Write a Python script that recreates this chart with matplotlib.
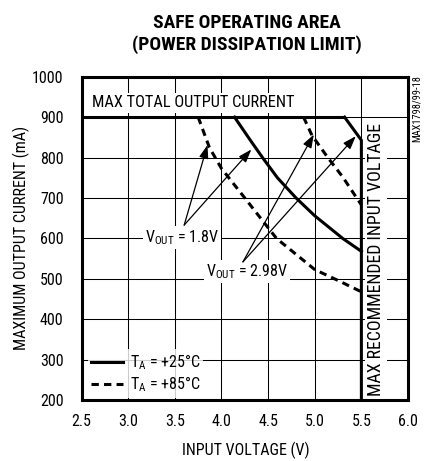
"""Safe operating area (power dissipation limit) chart."""

import matplotlib

matplotlib.use("Agg")
from matplotlib import pyplot as plt
from matplotlib.lines import Line2D

FONTS = ["Roboto Condensed", "Liberation Sans Narrow", "DejaVu Sans"]
plt.rcParams["font.family"] = FONTS
plt.rcParams["mathtext.fontset"] = "custom"
plt.rcParams["mathtext.rm"] = "Roboto Condensed"

# max total output current limit (shared flat top)
max_current_v = [2.5, 5.32]
max_current_ma = [900, 900]

# TA = +25C curves (2.98V one bends into the max input voltage line)
solid_298_v = [5.32, 5.5, 5.5]
solid_298_ma = [900, 843, 200]
solid_18_v = [4.14, 4.3, 4.44, 4.6, 4.8, 5.0, 5.3, 5.5]
solid_18_ma = [900, 846, 800, 750, 700, 656, 600, 568]

# TA = +85C curves
dashed_18_v = [3.75, 3.87, 4.0, 4.25, 4.59, 5.0, 5.25, 5.5]
dashed_18_ma = [900, 825, 773, 700, 600, 523, 496, 468]
dashed_298_v = [4.88, 4.97, 5.14, 5.3, 5.45, 5.5]
dashed_298_ma = [900, 855, 800, 752, 700, 683]

# annotation arrows: (tail, head) in data units
arrows_18 = [((3.60, 633), (3.85, 831)), ((3.60, 633), (4.32, 820))]
arrows_298 = [((4.23, 542), (4.99, 857)), ((4.23, 542), (5.44, 853))]

x_ticks = [2.5, 3.0, 3.5, 4.0, 4.5, 5.0, 5.5, 6.0]
y_ticks = [200, 300, 400, 500, 600, 700, 800, 900, 1000]

FS = 11.5
LW = 2.2
DASH = (2.4, 1.7)

fig = plt.figure(figsize=(4.25, 4.61), dpi=100)
ax = fig.add_axes([0.192, 0.132, 0.768, 0.7016])

ax.set_xlim(2.5, 6.0)
ax.set_ylim(200, 1000)
ax.set_xticks(x_ticks)
ax.set_xticklabels([f"{v:.1f}" for v in x_ticks])
ax.set_yticks(y_ticks)
ax.tick_params(length=0, labelsize=FS, pad=13)
ax.tick_params(axis="x", pad=10)
ax.grid(True, color="black", linewidth=0.75, zorder=0)
ax.set_axisbelow(True)
for spine in ax.spines.values():
    spine.set_linewidth(LW)
    spine.set_zorder(6)

ax.plot(max_current_v, max_current_ma, color="black", lw=LW, zorder=4,
        solid_capstyle="butt")
ax.plot(solid_298_v, solid_298_ma, color="black", lw=LW, zorder=4)
ax.plot(solid_18_v, solid_18_ma, color="black", lw=LW, zorder=4)
ax.plot(dashed_18_v, dashed_18_ma, color="black", lw=LW, zorder=4,
        dashes=DASH, dash_capstyle="butt")
ax.plot(dashed_298_v, dashed_298_ma, color="black", lw=LW, zorder=4,
        dashes=DASH, dash_capstyle="butt")

for tail, head in arrows_18 + arrows_298:
    ax.annotate(
        "", xy=head, xytext=tail, zorder=5,
        arrowprops=dict(arrowstyle="-|>,head_length=0.8,head_width=0.28",
                        lw=0.9, color="black", shrinkA=0, shrinkB=0),
    )

box = dict(facecolor="white", edgecolor="none", pad=1.5)
ax.text(2.607, 935, "MAX TOTAL OUTPUT CURRENT", fontsize=FS + 0.3,
        ha="left", va="center", bbox=box, zorder=3)
ax.text(3.58, 603, r"V$_\mathrm{OUT}$ = 1.8V", fontsize=FS, ha="center",
        va="center", bbox=box, zorder=3)
ax.text(4.27, 518, r"V$_\mathrm{OUT}$ = 2.98V", fontsize=FS, ha="center",
        va="center", bbox=box, zorder=3)
ax.text(5.655, 548, "MAX RECOMMENDED INPUT VOLTAGE", fontsize=12.8,
        rotation=90, ha="center", va="center", bbox=box, zorder=3)

handles = [
    Line2D([], [], color="black", lw=LW),
    Line2D([], [], color="black", lw=LW, dashes=DASH, dash_capstyle="butt"),
]
labels = [r"T$_\mathrm{A}$ = +25°C", r"T$_\mathrm{A}$ = +85°C"]
leg = ax.legend(handles, labels, loc="lower left", fontsize=FS, frameon=True,
                handlelength=2.0, handletextpad=0.4, labelspacing=0.15,
                bbox_to_anchor=(0.02, 0.008), borderaxespad=0.0,
                borderpad=0.2, fancybox=False)
leg.get_frame().set_edgecolor("none")
leg.set_zorder(3)

fig.text(0.581, 0.95, "SAFE OPERATING AREA", fontsize=14,
         fontweight="bold", ha="center", va="center")
fig.text(0.581, 0.9035, "(POWER DISSIPATION LIMIT)", fontsize=14,
         fontweight="bold", ha="center", va="center")
fig.text(0.578, 1 - 450 / 461, "INPUT VOLTAGE (V)", fontsize=FS,
         ha="center", va="center")
fig.text(21 / 425, 1 - 238 / 461, "MAXIMUM OUTPUT CURRENT (mA)", fontsize=FS,
         rotation=90, ha="center", va="center")
fig.text(417 / 425, 1 - 75 / 461, "MAX1798/99-18", fontsize=7.5,
         rotation=90, ha="center", va="top")

fig.savefig("out.png", dpi=100)
